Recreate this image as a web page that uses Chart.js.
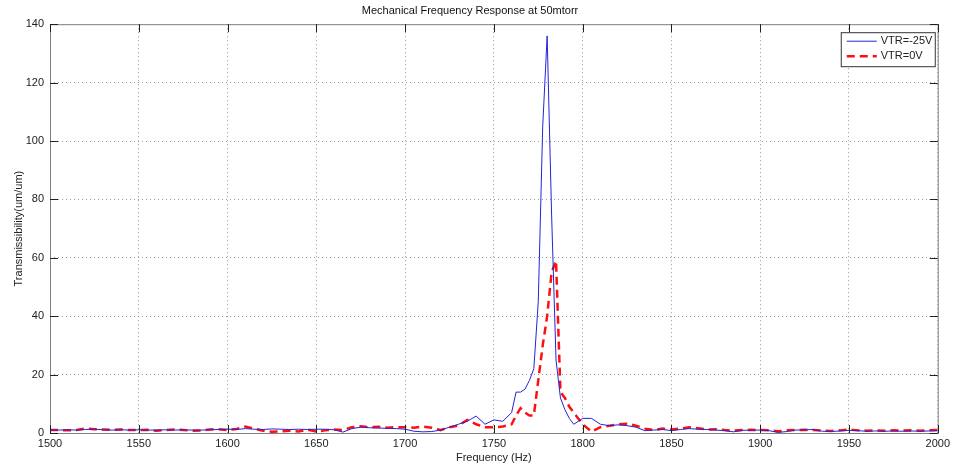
<!DOCTYPE html>
<html>
<head>
<meta charset="utf-8">
<title>Mechanical Frequency Response at 50mtorr</title>
<script src="https://cdn.jsdelivr.net/npm/chart.js@4.4.0/dist/chart.umd.min.js"></script>
<style>
html, body { margin: 0; padding: 0; background: #fff; }
</style>
</head>
<body>
<canvas id="myChart" width="954" height="465"></canvas>
<script>
// frequency samples (Hz) - finer around the resonance
var freq = [1500,1505,1510,1515,1520,1525,1530,1535,1540,1545,1550,1555,1560,1565,1570,1575,1580,1585,1590,1595,
  1600,1605,1610,1615,1620,1625,1630,1635,1640,1645,1650,1655,1660,1665,1670,1675,1680,1685,1690,1695,
  1700,1705,1710,1715,1720,1725,1730,1735,1740,1745,1750,1755,1760,
  1762.5,1765,1767.5,1770,1772.5,1775,1777.5,1780,1782.5,1785,1787.5,1790,1792.5,1795,1797.5,1800,
  1805,1810,1815,1820,1825,1830,1835,1840,1845,1850,1855,1860,1865,1870,1875,1880,1885,1890,1895,1900,
  1905,1910,1915,1920,1925,1930,1935,1940,1945,1950,1955,1960,1965,1970,1975,1980,1985,1990,1995,2000];

// VTR=-25V
var vtrMinus25 = [1.0,1.0,1.1,1.0,1.2,1.3,1.1,1.0,1.1,1.0,1.1,1.0,1.0,1.1,1.0,1.1,1.0,1.0,1.1,1.2,
  1.3,1.2,1.5,1.3,1.2,1.4,1.3,1.2,1.3,1.2,1.3,1.3,1.1,0.3,1.5,2.0,1.8,1.7,1.6,1.5,
  1.3,0.6,0.4,0.5,1.0,2.0,3.0,4.0,5.8,3.0,4.5,4.0,7.0,
  14,14,15,18,22,45,105,136,75,25,12,8,5,3,4,5,
  5.0,3.0,2.5,2.8,2.5,2.0,0.8,1.0,1.2,0.8,1.2,1.5,1.3,1.2,1.0,0.8,0.4,0.9,1.0,1.0,
  0.8,0.2,0.5,1.0,1.1,1.2,0.6,0.5,0.7,0.9,0.8,0.6,0.7,0.6,0.7,0.6,0.7,0.6,0.7,0.8];

// VTR=0V
var vtr0 = [1.0,1.0,0.9,1.0,1.6,1.3,1.2,1.1,1.2,1.0,1.0,1.1,0.8,1.0,1.2,1.0,0.8,0.9,1.2,1.3,
  1.0,1.4,2.2,1.5,0.8,0.4,0.6,0.8,0.5,1.2,0.5,0.9,1.2,1.0,2.0,2.3,2.0,2.1,1.8,2.0,
  2.0,1.8,2.2,1.8,1.0,2.0,2.5,4.5,3.0,2.0,2.0,2.2,3.0,
  6,8.5,7,6,6,18,30,40,55,59,14,12,9,7,5,3,
  0.5,2.0,2.5,3.0,3.2,2.5,1.5,1.0,1.5,1.2,1.5,2.0,1.6,1.2,1.3,1.0,0.8,1.0,1.1,1.0,
  0.9,0.6,0.9,1.0,1.1,1.0,0.8,0.7,0.9,1.2,0.9,0.8,0.9,0.8,0.9,0.8,0.9,0.8,0.9,1.0];

var seriesNames = ["VTR=-25V", "VTR=0V"];
var xTicks = [1500,1550,1600,1650,1700,1750,1800,1850,1900,1950,2000];
var yTicks = [0,20,40,60,80,100,120,140];

var FONT = "'Liberation Sans', Arial, sans-serif";

function toPoints(vals) {
  return freq.map(function (f, i) { return { x: f, y: vals[i] }; });
}

// axes box, inward tick marks and the in-plot legend (MATLAB style)
var boxPlugin = {
  id: 'box',
  afterDraw: function (chart) {
    var c = chart.ctx, a = chart.chartArea;
    var xs = chart.scales.x, ys = chart.scales.y;
    c.save();
    c.lineWidth = 1;
    c.strokeStyle = '#808080';
    c.strokeRect(a.left + 0.5, a.top + 0.5, a.right - a.left, a.bottom - a.top);
    c.strokeStyle = '#202020';
    c.beginPath();
    xTicks.forEach(function (t) {
      var px = Math.round(xs.getPixelForValue(t)) + 0.5;
      c.moveTo(px, a.bottom); c.lineTo(px, a.bottom - 8);
      c.moveTo(px, a.top); c.lineTo(px, a.top + 8);
    });
    yTicks.forEach(function (t) {
      var py = Math.round(ys.getPixelForValue(t)) + 0.5;
      c.moveTo(a.left, py); c.lineTo(a.left + 8, py);
      c.moveTo(a.right, py); c.lineTo(a.right - 8, py);
    });
    c.stroke();

    // legend
    var lx = a.right - 97, ly = a.top + 8, lw = 94, lh = 34;
    c.fillStyle = '#fff';
    c.fillRect(lx, ly, lw, lh);
    c.strokeStyle = '#333';
    c.strokeRect(lx + 0.5, ly + 0.5, lw, lh);
    var ds = chart.data.datasets;
    c.font = '11px ' + FONT;
    c.textBaseline = 'middle';
    for (var i = 0; i < ds.length; i++) {
      var yy = ly + 9 + i * 15;
      c.beginPath();
      c.strokeStyle = ds[i].borderColor;
      c.lineWidth = ds[i].borderWidth;
      c.setLineDash(ds[i].borderDash || []);
      c.moveTo(lx + 6, yy); c.lineTo(lx + 36, yy);
      c.stroke();
      c.setLineDash([]);
      c.fillStyle = '#222';
      c.fillText(seriesNames[i], lx + 40, yy);
    }
    c.restore();
  }
};

var ctx = document.getElementById("myChart");
var myChart = new Chart(ctx, {
  type: 'line',
  data: {
    datasets: [
      {
        label: seriesNames[0],
        data: toPoints(vtrMinus25),
        borderColor: "#2424d8",
        borderWidth: 1,
        pointRadius: 0,
        tension: 0,
        fill: false
      },
      {
        label: seriesNames[1],
        data: toPoints(vtr0),
        borderColor: "#ff1010",
        borderWidth: 2.5,
        borderDash: [8, 5],
        pointRadius: 0,
        tension: 0,
        fill: false
      }
    ]
  },
  plugins: [boxPlugin],
  options: {
    responsive: false,
    animation: false,
    layout: { padding: { left: 0, right: 14, top: 0, bottom: 0 } },
    plugins: {
      legend: { display: false },
      tooltip: { enabled: false },
      title: {
        display: true,
        text: "Mechanical Frequency Response at 50mtorr",
        color: '#111',
        font: { family: FONT, size: 11, weight: 'normal' },
        padding: { top: 4, bottom: 7 }
      }
    },
    scales: {
      x: {
        type: 'linear',
        min: 1500,
        max: 2000,
        afterBuildTicks: function (s) { s.ticks = xTicks.map(function (v) { return { value: v }; }); },
        afterFit: function (s) { s.height = 32; },
        ticks: {
          color: '#222', padding: 4, maxRotation: 0, font: { family: FONT, size: 11 },
          callback: function (v) { return String(v); }
        },
        grid: { color: '#9a9a9a', drawTicks: false },
        border: { display: false, dash: [1, 3] },
        title: {
          display: true,
          text: "Frequency (Hz)",
          color: '#222',
          font: { family: FONT, size: 11 },
          padding: { top: 0, bottom: 0 }
        }
      },
      y: {
        min: 0,
        max: 140,
        afterBuildTicks: function (s) { s.ticks = yTicks.map(function (v) { return { value: v }; }); },
        afterFit: function (s) { s.width = 50; },
        ticks: {
          color: '#222', padding: 6, font: { family: FONT, size: 11 },
          callback: function (v) { return String(v); }
        },
        grid: { color: '#9a9a9a', drawTicks: false },
        border: { display: false, dash: [1, 3] },
        title: {
          display: true,
          text: "Transmissibility(um/um)",
          color: '#222',
          font: { family: FONT, size: 11 },
          padding: { top: 12, bottom: 0 }
        }
      }
    }
  }
});
</script>
</body>
</html>
